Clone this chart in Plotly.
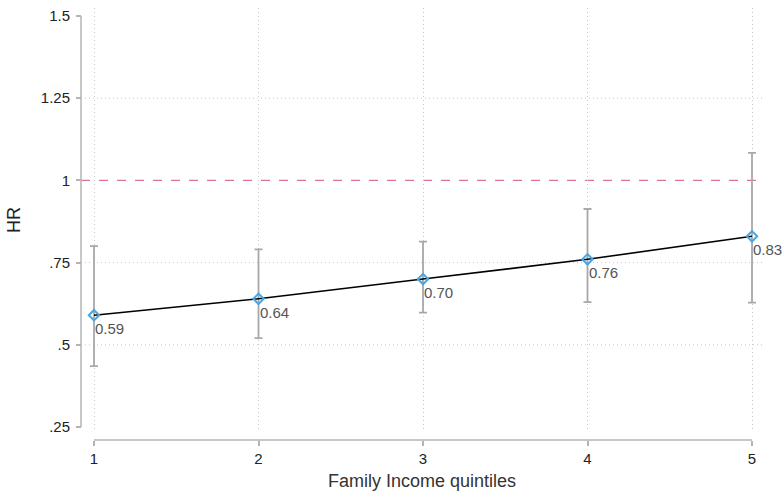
import plotly.graph_objects as go

# Hazard ratios by family income quintile with 95% confidence limits
quintiles = [1, 2, 3, 4, 5]
hr = [0.59, 0.64, 0.70, 0.76, 0.83]
ci_low = [0.435, 0.52, 0.598, 0.630, 0.628]
ci_high = [0.80, 0.79, 0.814, 0.913, 1.084]
hr_labels = [f"{v:.2f}" for v in hr]

y_ticks = [0.25, 0.5, 0.75, 1.0, 1.25, 1.5]
y_ticktext = [".25", ".5", ".75", "1", "1.25", "1.5"]
y_grid = [0.5, 0.75, 1.25]
reference_hr = 1.0

W, H = 783, 498
m_l, m_r, m_t, m_b = 81, 20, 8, 58
plot_h = H - m_t - m_b
y_dom_bottom = 8 / plot_h

axis_grey = "#b4b4b4"
grid_grey = "#c8c8c8"
grid_dash = "1px,3px"
font_family = "Liberation Sans, Arial, Helvetica, sans-serif"

fig = go.Figure()

# confidence intervals
fig.add_trace(go.Scatter(
    x=quintiles, y=hr, mode="markers",
    marker=dict(size=1, color="rgba(0,0,0,0)"),
    error_y=dict(type="data", symmetric=False,
                 array=[h - e for h, e in zip(ci_high, hr)],
                 arrayminus=[e - l for e, l in zip(hr, ci_low)],
                 color="#a8a8a8", thickness=1.8, width=4),
    hoverinfo="skip", showlegend=False,
))

# point estimates joined by a line
fig.add_trace(go.Scatter(
    x=quintiles, y=hr, mode="lines+markers",
    line=dict(color="black", width=1.6),
    marker=dict(symbol="diamond-open", size=8, color="#4aa5e0",
                line=dict(width=2, color="#4aa5e0")),
    showlegend=False,
))

# value labels just below-right of each estimate
annotations = [
    dict(x=q, y=v, xref="x", yref="y", text=t, showarrow=False,
         xanchor="left", yanchor="top", xshift=-1, yshift=-3,
         font=dict(family=font_family, size=15, color="#555555"))
    for q, v, t in zip(quintiles, hr, hr_labels)
]

shapes = []
for g in y_grid:
    shapes.append(dict(type="line", xref="paper", x0=0, x1=1, yref="y", y0=g, y1=g,
                       line=dict(color=grid_grey, width=1, dash=grid_dash), layer="below"))
shapes.append(dict(type="line", xref="paper", x0=0, x1=1, yref="y",
                   y0=reference_hr, y1=reference_hr,
                   line=dict(color="#e0709a", width=1.2, dash="dash"), layer="below"))
# offset axis lines spanning the tick range
shapes.append(dict(type="line", xref="paper", x0=0, x1=0, yref="y",
                   y0=y_ticks[0], y1=y_ticks[-1], line=dict(color=axis_grey, width=1.5)))
shapes.append(dict(type="line", xref="x", x0=quintiles[0], x1=quintiles[-1], yref="paper",
                   y0=0, y1=0, line=dict(color=axis_grey, width=1.5)))

px_per_x = (752 - 94) / 4
x_lo = 1 - (94 - 81) / px_per_x
x_hi = 5 + (763 - 752) / px_per_x
px_per_y = (427 - 16) / 1.25
y_hi = 1.5 + (16 - 8) / px_per_y
y_lo = 0.25 - (432 - 427) / px_per_y

fig.update_layout(
    width=W, height=H,
    margin=dict(l=m_l, r=m_r, t=m_t, b=m_b),
    paper_bgcolor="white", plot_bgcolor="white",
    font=dict(family=font_family, color="#222222"),
    shapes=shapes,
    annotations=annotations,
    xaxis=dict(
        domain=[0, 1], range=[x_lo, x_hi], anchor="free", position=0,
        tickvals=quintiles, ticktext=[str(q) for q in quintiles],
        ticks="outside", ticklen=5, tickcolor=axis_grey, tickwidth=1.5,
        showline=False, zeroline=False,
        showgrid=True, gridcolor=grid_grey, griddash=grid_dash, gridwidth=1,
        tickfont=dict(size=15, color="#222222"),
        title=dict(text="Family Income quintiles", font=dict(size=18, color="#333333"), standoff=8),
    ),
    yaxis=dict(
        domain=[y_dom_bottom, 1], range=[y_lo, y_hi], anchor="free", position=0,
        tickvals=y_ticks, ticktext=y_ticktext,
        ticks="outside", ticklen=5, tickcolor=axis_grey, tickwidth=1.5,
        ticklabelstandoff=3,
        showline=False, zeroline=False, showgrid=False,
        tickfont=dict(size=15, color="#222222"),
        title=dict(text="HR", font=dict(size=18, color="#222222"), standoff=14),
    ),
)

fig.write_html("out.html")
